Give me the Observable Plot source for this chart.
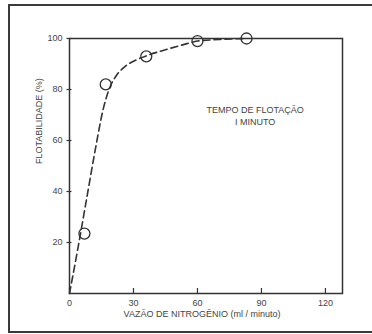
<!DOCTYPE html>
<html>
<head>
<meta charset="utf-8">
<script src="https://cdn.jsdelivr.net/npm/d3@7"></script>
<script src="https://cdn.jsdelivr.net/npm/@observablehq/plot@0.6"></script>
<style>
  html, body { margin: 0; padding: 0; background: #fff; }
  #wrap { position: relative; width: 372px; height: 334px; overflow: hidden; }
  #border { position: absolute; left: 8px; top: 4px; width: 370px; height: 325px;
            border-left: 2px solid #3a3a3a; border-top: 2px solid #3a3a3a; border-bottom: 2px solid #3a3a3a;
            pointer-events: none; }
</style>
</head>
<body>
<div id="wrap"><div id="chart"></div><div id="border"></div></div>
<script>
// measured points (vazão de nitrogênio, flotabilidade %)
const pointX = [7, 17, 36, 60, 83];
const pointY = [23.5, 82, 93, 99, 100];
// fitted dashed curve
const curveX = [0, 4, 8, 12, 16, 19, 22, 26, 31, 37, 45, 53, 60, 70, 83];
const curveY = [0, 18, 37, 56, 73, 81, 85.5, 89, 91.5, 93.5, 95.6, 97.5, 99, 99.6, 100];
const xTicks = [0, 30, 60, 90, 120];
const yTicks = [20, 40, 60, 80, 100];
const xLabel = "VAZÃO DE NITROGÊNIO (ml / minuto)";
const yLabel = "FLOTABILIDADE (%)";
const note = "TEMPO DE FLOTAÇÃO\nI MINUTO";

const points = pointX.map((x, i) => ({x, y: pointY[i]}));
const curve = curveX.map((x, i) => ({x, y: curveY[i]}));
const ink = "#333";
const textInk = "#444";

const chart = Plot.plot({
  width: 372,
  height: 334,
  marginLeft: 69,
  marginRight: 30,
  marginTop: 38,
  marginBottom: 41,
  style: {fontFamily: "'Liberation Sans', Arial, sans-serif", background: "transparent", color: textInk},
  x: {domain: [0, 128]},
  y: {domain: [0, 100]},
  marks: [
    Plot.frame({stroke: ink, strokeWidth: 1.5}),
    // inward ticks
    Plot.axisX(xTicks, {tickSize: 5, dy: -5, tickFormat: () => "", stroke: ink, strokeWidth: 1.2, label: null}),
    Plot.axisX(xTicks, {tickSize: 0, tickPadding: 6, fontSize: 9, fill: textInk, label: null}),
    Plot.axisY(yTicks, {tickSize: 5, dx: 2.5, tickFormat: () => "", stroke: ink, strokeWidth: 1.2, label: null}),
    Plot.axisY(yTicks, {tickSize: 0, tickPadding: 7, fontSize: 9, fill: textInk, label: null}),
    Plot.text([xLabel], {frameAnchor: "bottom", dy: 23, dx: -4, fontSize: 9, letterSpacing: 1.1, fill: textInk}),
    Plot.text([yLabel], {frameAnchor: "left", dx: -30, dy: -2, rotate: -90, fontSize: 9, letterSpacing: 1.1, fill: textInk}),
    Plot.text([note], {x: () => 87, y: () => 70, fontSize: 9, lineHeight: 1.3, fill: textInk, letterSpacing: 1.2}),
    Plot.line(curve, {x: "x", y: "y", curve: "monotone-x", stroke: ink, strokeWidth: 1.6, strokeDasharray: "7,4"}),
    Plot.dot(points, {x: "x", y: "y", r: 5.5, stroke: ink, strokeWidth: 1.3, fill: "none"})
  ]
});
document.getElementById("chart").appendChild(chart);
</script>
</body>
</html>
